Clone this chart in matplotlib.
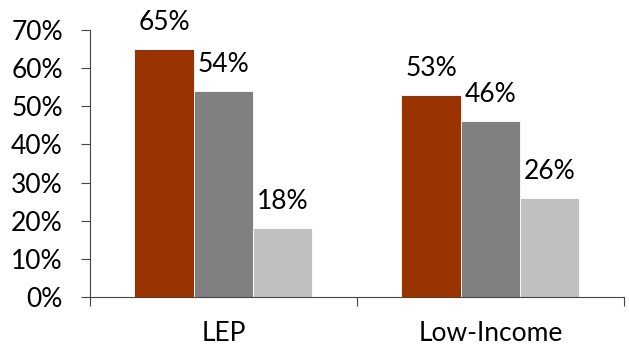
import numpy as np
import matplotlib.pyplot as plt
from matplotlib.ticker import FixedLocator

plt.rcParams['font.family'] = ['Lato', 'DejaVu Sans']

# data
groups = ["LEP", "Low-Income"]
series_a = [65, 53]
series_b = [54, 46]
series_c = [18, 26]
colors = ["#993300", "#808080", "#C0C0C0"]

fig = plt.figure(figsize=(6.29, 3.48), dpi=100)
ax = fig.add_axes([0.143, 0.1466, 0.849, 0.7674])

x = np.arange(len(groups))
w = 2.0 / 9.0
for i, (vals, c) in enumerate(zip([series_a, series_b, series_c], colors)):
    pos = x + (i - 1) * w
    ax.bar(pos, vals, width=w, color=c, edgecolor="white", linewidth=0.6)
    for p, v in zip(pos, vals):
        ax.text(p, v + 5.0, "%d%%" % v, ha="center", va="baseline", fontsize=19)

ax.set_xlim(-0.5, 1.5)
ax.set_ylim(0, 70)
ax.set_yticks(np.arange(0, 71, 10))
ax.set_yticklabels(["%d%%" % t for t in range(0, 71, 10)], fontsize=19)
ax.tick_params(axis="y", length=6.5, width=0.8, pad=13)

ax.set_xticks(x)
ax.set_xticklabels(groups, fontsize=19)
ax.tick_params(axis="x", which="major", length=0, pad=17)
ax.xaxis.set_minor_locator(FixedLocator([-0.5, 0.5, 1.5]))
ax.tick_params(axis="x", which="minor", length=6.5, width=0.8)

for s in ["top", "right"]:
    ax.spines[s].set_visible(False)
for s in ["left", "bottom"]:
    ax.spines[s].set_linewidth(0.8)
    ax.spines[s].set_color("#444444")
ax.tick_params(colors="#444444", labelcolor="black", which="both")

fig.savefig("out.png", dpi=100)
